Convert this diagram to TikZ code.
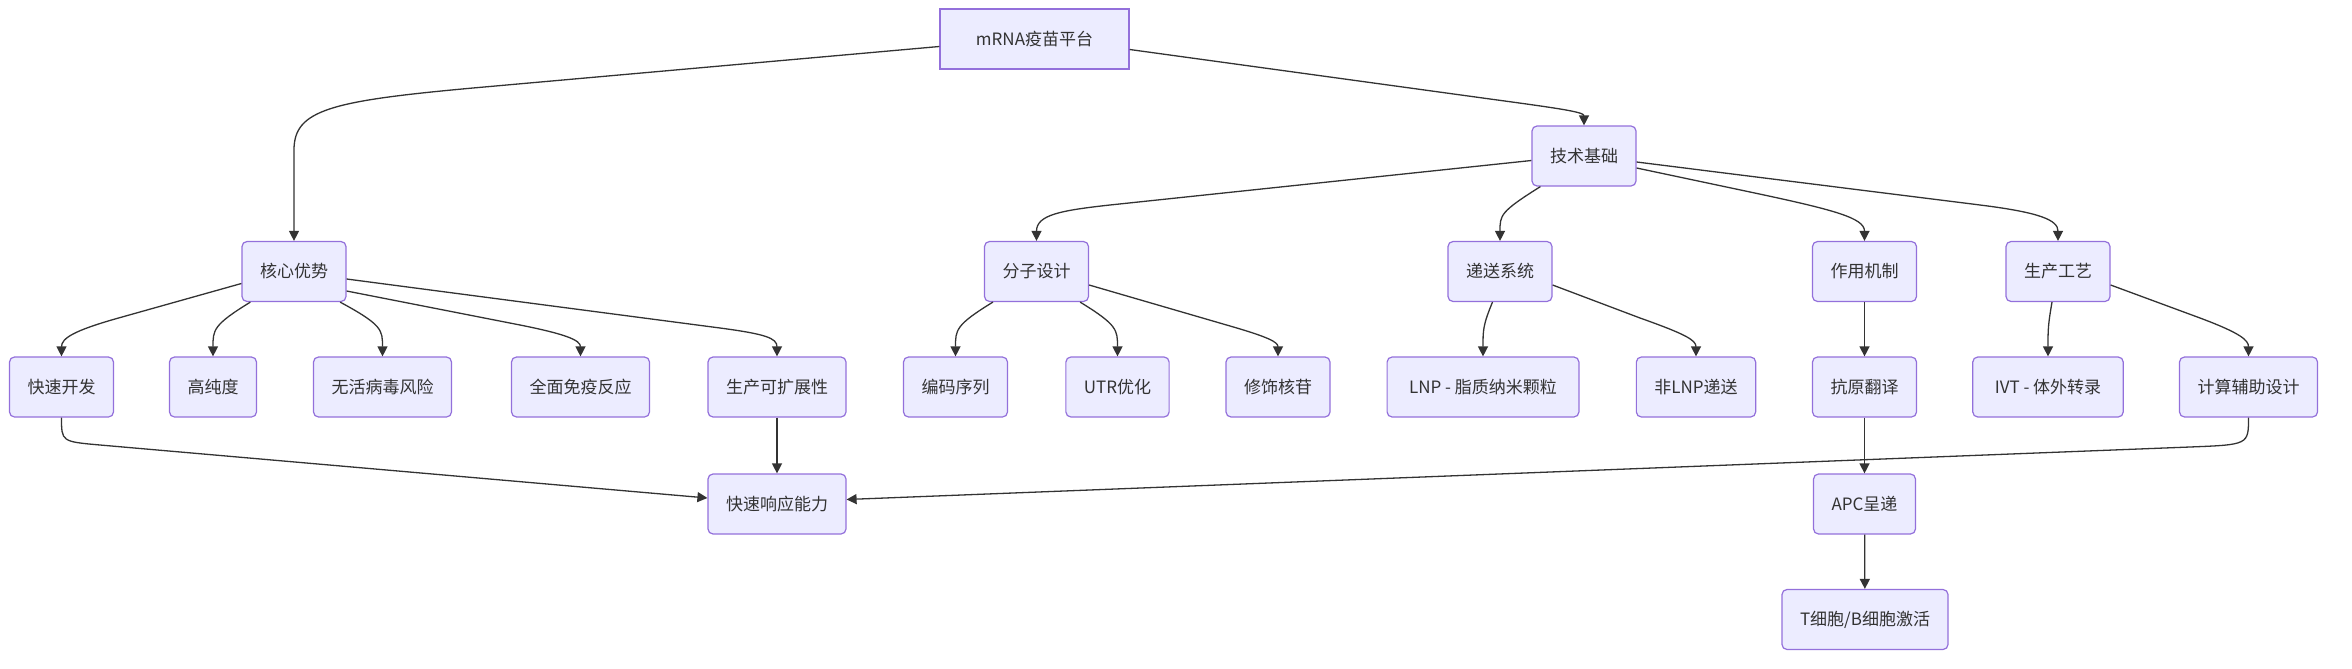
\documentclass[tikz,border=0pt]{standalone}
\usepackage{fontspec}
\setmainfont{Noto Sans CJK SC}
\usetikzlibrary{arrows.meta}
\definecolor{nodefill}{HTML}{ECECFF}
\definecolor{nodeline}{HTML}{9370DB}
\definecolor{edgecol}{HTML}{333333}
\tikzset{
  box/.style={draw=nodeline, fill=nodefill, rounded corners=2.5pt, line width=0.6pt,
    minimum height=30pt, inner xsep=9pt, text=edgecol, font=\fontsize{8.5}{10}\selectfont},
  rootbox/.style={box, rounded corners=0pt, inner xsep=18pt},
  link/.style={draw=edgecol, line width=0.65pt, -{Triangle[length=5pt,width=5pt]}}
}
\begin{document}
\begin{tikzpicture}[x=0.5pt,y=-0.5pt]
\useasboundingbox (0,0) rectangle (2352,669);
% top levels
\node[rootbox] (top) at (1034.5,39) {mRNA疫苗平台};
\node[box] (tech) at (1584,156) {技术基础};
% third row
\node[box] (core) at (294,271.5) {核心优势};
\node[box] (mol) at (1036.5,271.5) {分子设计};
\node[box] (deliv) at (1500,271.5) {递送系统};
\node[box] (mech) at (1864.5,271.5) {作用机制};
\node[box] (prod) at (2058,271.5) {生产工艺};
% fourth row
\node[box] (fast) at (61.5,387) {快速开发};
\node[box] (purity) at (213,387) {高纯度};
\node[box] (novirus) at (382.5,387) {无活病毒风险};
\node[box] (immune) at (580.5,387) {全面免疫反应};
\node[box] (scale) at (777,387) {生产可扩展性};
\node[box] (seq) at (955.5,387) {编码序列};
\node[box] (utr) at (1117.5,387) {UTR优化};
\node[box] (modnuc) at (1278,387) {修饰核苷};
\node[box, inner xsep=11pt] (lnp) at (1483,387) {LNP - 脂质纳米颗粒};
\node[box] (nonlnp) at (1696,387) {非LNP递送};
\node[box] (antigen) at (1864.5,387) {抗原翻译};
\node[box, inner xsep=11pt] (ivt) at (2048,387) {IVT - 体外转录};
\node[box] (comp) at (2248.5,387) {计算辅助设计};
% lower rows
\node[box] (rapid) at (777,504) {快速响应能力};
\node[box] (apc) at (1864.5,504) {APC呈递};
\node[box] (tcell) at (1865,619.5) {T细胞/B细胞激活};
% edges
\draw[link] ([yshift=-3.75pt]top.west) -- (473,88) .. controls (330,101) and (294,110) .. (294,150) -- (core.north);
\draw[link] ([yshift=-5.25pt]top.east) -- (1490,99) .. controls (1560,108.5) and (1584,112) .. (tech.north);
\draw[link] ([yshift=-2.25pt]tech.west) -- (1110,205) .. controls (1060,210.5) and (1036.5,215) .. (mol.north);
\draw[link] ([xshift=4.5pt]tech.south west) .. controls (1500,212) and (1500,215) .. (deliv.north);
\draw[link] ([yshift=-6pt]tech.east) -- (1750,192) .. controls (1835,210) and (1864.5,218) .. (mech.north);
\draw[link] ([yshift=-3pt]tech.east) -- (1980,205) .. controls (2040,212.5) and (2058,220) .. (prod.north);
\draw[link] ([yshift=-6pt]core.west) -- (115,319) .. controls (75,330.5) and (61.5,338) .. (fast.north);
\draw[link] ([xshift=4.5pt]core.south west) .. controls (213,325) and (213,330) .. (purity.north);
\draw[link] ([xshift=-3.25pt]core.south east) .. controls (382.5,325) and (382.5,330) .. (novirus.north);
\draw[link] ([yshift=-9.75pt]core.east) -- (520,325) .. controls (565,334) and (580.5,340) .. (immune.north);
\draw[link] ([yshift=-3.75pt]core.east) -- (720,328) .. controls (765,334) and (777,338) .. (scale.north);
\draw[link] ([xshift=4.5pt]mol.south west) .. controls (955.5,325) and (955.5,330) .. (seq.north);
\draw[link] ([xshift=-4.5pt]mol.south east) .. controls (1117.5,325) and (1117.5,330) .. (utr.north);
\draw[link] ([yshift=-6.75pt]mol.east) -- (1230,326) .. controls (1268,337) and (1278,342) .. (modnuc.north);
\draw[link] ([xshift=-3.75pt]deliv.south) .. controls (1483,325) and (1483,330) .. (lnp.north);
\draw[link] ([yshift=-6.75pt]deliv.east) -- (1640,318) .. controls (1685,334) and (1696,340) .. (nonlnp.north);
\draw[link] (mech) -- (antigen);
\draw[link] ([xshift=-3pt]prod.south) .. controls (2048,325) and (2048,330) .. (ivt.north);
\draw[link] ([yshift=-6.75pt]prod.east) -- (2200,318) .. controls (2240,333) and (2248.5,340) .. (comp.north);
\draw[link] (fast.south) .. controls (61.5,441.6) .. (100,445) -- ([yshift=3pt]rapid.west);
\draw[link] (scale) -- (rapid);
\draw[link] (comp.south) .. controls (2248.5,444.7) .. (2190,447) -- ([yshift=2.25pt]rapid.east);
\draw[link] (antigen) -- (apc);
\draw[link] (apc) -- (tcell);
\end{tikzpicture}
\end{document}
